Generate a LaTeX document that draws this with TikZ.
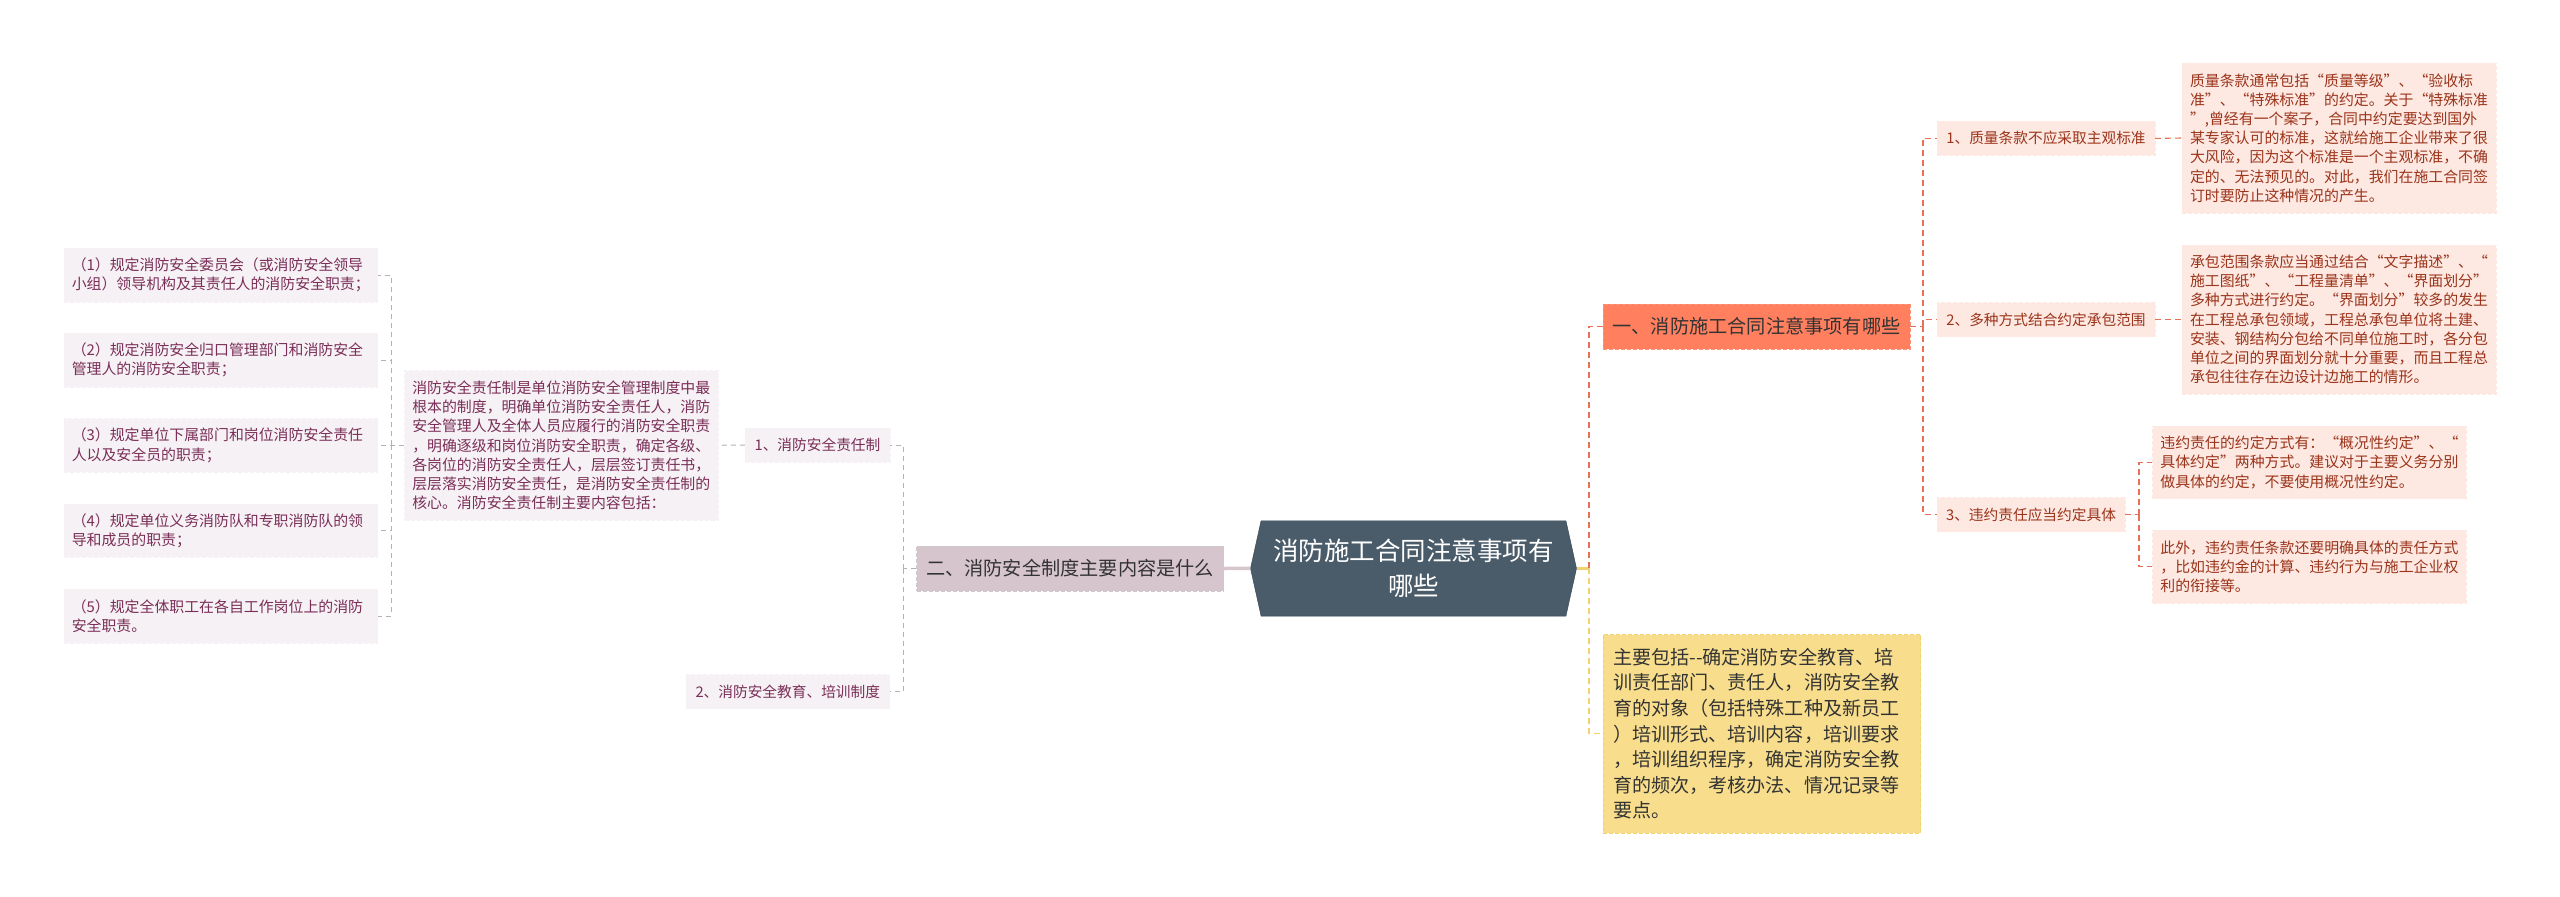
\documentclass[tikz,border=0pt]{standalone}
\usepackage{fontspec}
\setmainfont{Noto Sans CJK SC}
\usepackage{xcolor}
\usetikzlibrary{shapes.symbols}
\newcommand{\lqt}{\makebox[1em][r]{“}}
\newcommand{\rqt}{\makebox[1em][l]{”}}
\definecolor{rootcol}{RGB}{74,92,106}
\definecolor{rootline}{RGB}{50,66,80}
\definecolor{plumcol}{RGB}{215,197,206}
\definecolor{plumtint}{RGB}{246,241,244}
\definecolor{plumtext}{RGB}{122,46,88}
\definecolor{plumline}{RGB}{182,178,180}
\definecolor{corcol}{RGB}{255,127,95}
\definecolor{cortint}{RGB}{253,232,226}
\definecolor{cortext}{RGB}{155,52,26}
\definecolor{corline}{RGB}{232,112,86}
\definecolor{yelcol}{RGB}{248,222,140}
\definecolor{yelline}{RGB}{240,210,110}
\tikzset{
	rootnode/.style={signal, signal to=east and west, signal pointer angle=155, draw=rootline, fill=rootcol, text=white, align=center, minimum width=326pt, minimum height=95.3pt, inner sep=0pt, font=\fontsize{25.5}{35}\selectfont},
	mainnode/.style={rectangle, dashed, dash pattern=on 4pt off 2pt, text=black!80, align=center, inner sep=0pt, minimum width=307pt, minimum height=44.8pt, font=\fontsize{19.2}{25.6}\selectfont},
	subnode/.style={rectangle, dashed, dash pattern=on 4pt off 2pt, align=center, inner sep=0pt, minimum height=34pt, font=\fontsize{14.7}{19.2}\selectfont},
	textnode/.style={rectangle, dashed, dash pattern=on 4pt off 2pt, align=left, text width=298pt, inner sep=0pt, inner xsep=7.75pt, font=\fontsize{14.9}{19.2}\selectfont},
	plumnode/.style={draw=plumtint, fill=plumtint, text=plumtext},
	cornode/.style={draw=cortint, fill=cortint, text=cortext},
	graylink/.style={draw=plumline, dash pattern=on 5pt off 4pt, line width=1pt},
	redlink/.style={draw=corline, dash pattern=on 6pt off 4pt, line width=1.1pt},
	yellink/.style={draw=yelline, dash pattern=on 6pt off 4pt, line width=1.1pt}
}
\begin{document}
\begin{tikzpicture}[x=1pt, y=-1pt]
	\useasboundingbox (0,0) rectangle (2560,897);
	
	\node[rootnode] at (1413.5,568.4) (root) {消防施工合同注意事项有\\哪些};
	
	% left side
	\node[mainnode, draw=plumline!70, fill=plumcol] at (1070,568.5) (two) {二、消防安全制度主要内容是什么};
	\node[subnode, plumnode, minimum width=145pt] at (817.5,445) (duty) {1、消防安全责任制};
	\node[subnode, plumnode, minimum width=203.6pt] at (787.8,691.5) (train) {2、消防安全教育、培训制度};
	\node[textnode, plumnode, minimum height=149.3pt] at (561.25,445.3) (dutytext) {消防安全责任制是单位消防安全管理制度中最\\根本的制度，明确单位消防安全责任人，消防\\安全管理人及全体人员应履行的消防安全职责\\，明确逐级和岗位消防安全职责，确定各级、\\各岗位的消防安全责任人，层层签订责任书，\\层层落实消防安全责任，是消防安全责任制的\\核心。消防安全责任制主要内容包括：};
	\node[textnode, plumnode, minimum height=53.4pt] at (220.75,275) (item1) {（1）规定消防安全委员会（或消防安全领导\\小组）领导机构及其责任人的消防安全职责；};
	\node[textnode, plumnode, minimum height=53.4pt] at (220.75,360) (item2) {（2）规定消防安全归口管理部门和消防安全\\管理人的消防安全职责；};
	\node[textnode, plumnode, minimum height=53.4pt] at (220.75,445.3) (item3) {（3）规定单位下属部门和岗位消防安全责任\\人以及安全员的职责；};
	\node[textnode, plumnode, minimum height=53.4pt] at (220.75,530.7) (item4) {（4）规定单位义务消防队和专职消防队的领\\导和成员的职责；};
	\node[textnode, plumnode, minimum height=53.4pt] at (220.75,616) (item5) {（5）规定全体职工在各自工作岗位上的消防\\安全职责。};
	
	% right side
	\node[mainnode, draw=corcol!85!white, fill=corcol] at (1756.5,326.3) (one) {一、消防施工合同注意事项有哪些};
	\node[textnode, draw=yelline, fill=yelcol, text=black!80, text width=297.5pt, inner xsep=10pt, minimum height=198.3pt, font=\fontsize{19.1}{25.6}\selectfont] at (1761.75,733.8) (main) {主要包括-{}-确定消防安全教育、培\\训责任部门、责任人，消防安全教\\育的对象（包括特殊工种及新员工\\）培训形式、培训内容，培训要求\\，培训组织程序，确定消防安全教\\育的频次，考核办法、情况记录等\\要点。};
	\node[subnode, cornode, minimum width=218pt] at (2046,138.4) (q1) {1、质量条款不应采取主观标准};
	\node[subnode, cornode, minimum width=218pt] at (2046,319.5) (q2) {2、多种方式结合约定承包范围};
	\node[subnode, cornode, minimum width=188pt] at (2031,514.5) (q3) {3、违约责任应当约定具体};
	\node[textnode, cornode, minimum height=149.7pt] at (2339,138) (a1) {质量条款通常包括\lqt{}质量等级\rqt{}、\lqt{}验收标\\准\rqt{}、\lqt{}特殊标准\rqt{}的约定。关于\lqt{}特殊标准\\\rqt{},曾经有一个案子，合同中约定要达到国外\\某专家认可的标准，这就给施工企业带来了很\\大风险，因为这个标准是一个主观标准，不确\\定的、无法预见的。对此，我们在施工合同签\\订时要防止这种情况的产生。};
	\node[textnode, cornode, minimum height=149pt] at (2339,319.5) (a2) {承包范围条款应当通过结合\lqt{}文字描述\rqt{}、\lqt{}\\施工图纸\rqt{}、\lqt{}工程量清单\rqt{}、\lqt{}界面划分\rqt{}\\多种方式进行约定。\lqt{}界面划分\rqt{}较多的发生\\在工程总承包领域，工程总承包单位将土建、\\安装、钢结构分包给不同单位施工时，各分包\\单位之间的界面划分就十分重要，而且工程总\\承包往往存在边设计边施工的情形。};
	\node[textnode, cornode, minimum height=72.5pt] at (2309.4,462.3) (a3) {违约责任的约定方式有：\lqt{}概况性约定\rqt{}、\lqt{}\\具体约定\rqt{}两种方式。建议对于主要义务分别\\做具体的约定，不要使用概况性约定。};
	\node[textnode, cornode, minimum height=72.5pt] at (2309.4,566.7) (a4) {此外，违约责任条款还要明确具体的责任方式\\，比如违约金的计算、违约行为与施工企业权\\利的衔接等。};
	
	% branch points
	\coordinate (forkitems) at (391,445.3);
	\coordinate (forktwo) at (903,568.5);
	\coordinate (forkroot) at (1589,568.4);
	\coordinate (forkone) at (1923,326.3);
	\coordinate (forkthree) at (2139,514.5);
	
	\draw[draw=plumcol, line width=3.5pt] (two.east) -- (root.west);
	\draw[graylink] (two.west) -- (forktwo);
	\draw[graylink] (forktwo) |- (duty.east);
	\draw[graylink] (forktwo) |- (train.east);
	\draw[graylink] (duty.west) -- (dutytext.east);
	\draw[graylink] (dutytext.west) -- (item3.east);
	\draw[graylink] (forkitems) |- (item1.east);
	\draw[graylink] (forkitems) |- (item2.east);
	\draw[graylink] (forkitems) |- (item4.east);
	\draw[graylink] (forkitems) |- (item5.east);
	
	\draw[draw=yelline, line width=3.5pt] (root.east) -- (forkroot);
	\draw[redlink] (forkroot) |- (one.west);
	\draw[yellink] (forkroot) |- (main.west);
	\draw[redlink] (one.east) -- (forkone);
	\draw[redlink] (forkone) |- (q1.west);
	\draw[redlink] (forkone) |- (q2.west);
	\draw[redlink] (forkone) |- (q3.west);
	\draw[redlink] (q1.east) -- (a1.west);
	\draw[redlink] (q2.east) -- (a2.west);
	\draw[redlink] (q3.east) -- (forkthree);
	\draw[redlink] (forkthree) |- (a3.west);
	\draw[redlink] (forkthree) |- (a4.west);
\end{tikzpicture}
\end{document}
